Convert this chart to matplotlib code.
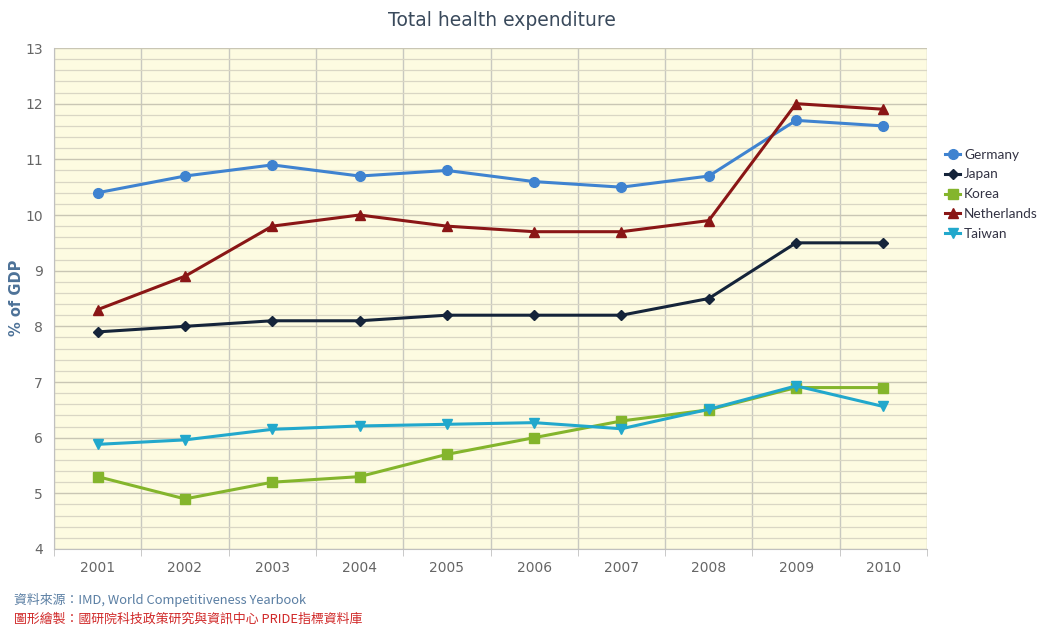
import numpy as np
from matplotlib import pyplot as plt

years = ["2001", "2002", "2003", "2004", "2005", "2006", "2007", "2008", "2009", "2010"]

germany = [10.4, 10.7, 10.9, 10.7, 10.8, 10.6, 10.5, 10.7, 11.7, 11.6]
japan = [7.9, 8.0, 8.1, 8.1, 8.2, 8.2, 8.2, 8.5, 9.5, 9.5]
korea = [5.3, 4.9, 5.2, 5.3, 5.7, 6.0, 6.3, 6.5, 6.9, 6.9]
netherlands = [8.3, 8.9, 9.8, 10.0, 9.8, 9.7, 9.7, 9.9, 12.0, 11.9]
taiwan = [5.88, 5.96, 6.15, 6.21, 6.24, 6.27, 6.16, 6.51, 6.93, 6.56]

series = [
    ("Germany", germany, "#3f83d0", "o", 7),
    ("Japan", japan, "#15243a", "D", 5),
    ("Korea", korea, "#84b52c", "s", 7),
    ("Netherlands", netherlands, "#8a1616", "^", 7.5),
    ("Taiwan", taiwan, "#22a8cc", "v", 7.5),
]

plt.rcParams["font.family"] = ["DejaVu Sans"]

fig = plt.figure(figsize=(10.43, 6.25), dpi=100)
ax = fig.add_axes([0.0518, 0.1216, 0.8370, 0.8016])
ax.set_facecolor("#fdfbe1")

x = np.arange(len(years))
for name, values, color, marker, size in series:
    ax.plot(x, values, color=color, marker=marker, markersize=size,
            linewidth=2.2, label=name, zorder=3)

ax.set_xlim(-0.5, len(years) - 0.5)
ax.set_ylim(4, 13)

# horizontal grid every 0.2, major lines every 1
ax.set_yticks(np.arange(4, 14, 1))
ax.set_yticks(np.arange(4, 13.01, 0.2), minor=True)
ax.grid(axis="y", which="minor", color="#d9d6c4", linewidth=0.9, zorder=1)
ax.grid(axis="y", which="major", color="#c9c6b4", linewidth=1.0, zorder=1)

# vertical lines between categories
ax.set_xticks(x)
ax.set_xticklabels(years)
ax.set_xticks(np.arange(-0.5, len(years), 1), minor=True)
ax.grid(axis="x", which="minor", color="#c8c8c0", linewidth=1.0, zorder=1)
ax.tick_params(axis="x", which="major", length=0, pad=9, labelsize=10, labelcolor="#666666")
ax.tick_params(axis="x", which="minor", length=5, color="#c0c0c0")
ax.tick_params(axis="y", which="both", length=0, pad=8, labelsize=10, labelcolor="#666666")

for side in ["top", "right"]:
    ax.spines[side].set_visible(False)
ax.spines["left"].set_color("#c0c0c0")
ax.spines["bottom"].set_color("#c0c0c0")

fig.text(0.016, 0.523, "% of GDP", rotation=90, ha="center", va="center",
         color="#4d7298", fontsize=10.5, fontweight="bold")
fig.text(0.481, 0.968, "Total health expenditure", ha="center", va="center",
         fontsize=13.5, color="#3a4a5c")

fig.legend(loc="upper left", bbox_to_anchor=(0.901, 0.771), frameon=False,
           prop={"family": "Lato", "size": 9.8}, labelcolor="#333344",
           handlelength=1.1, handletextpad=0.3, labelspacing=0.58, borderaxespad=0)

cjk = ["Noto Sans CJK TC", "DejaVu Sans"]
fig.text(0.013, 0.04, "資料來源：IMD, World Competitiveness Yearbook", family=cjk,
         fontsize=9.3, color="#5a7ea3", va="center")
fig.text(0.013, 0.01, "圖形繪製：國研院科技政策研究與資訊中心 PRIDE指標資料庫", family=cjk,
         fontsize=9.3, color="#d02828", va="center")

fig.savefig("out.png", dpi=100)
